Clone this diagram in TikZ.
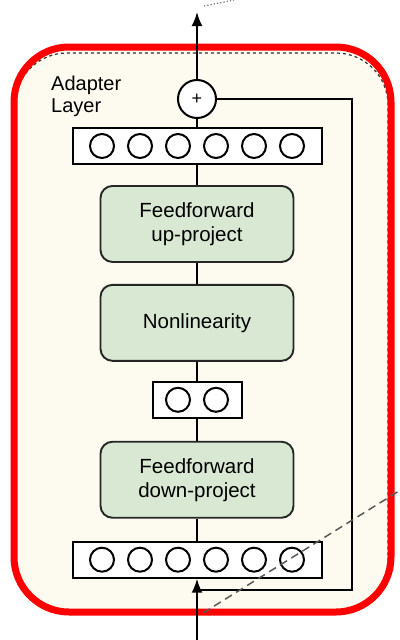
\documentclass[tikz,border=0pt]{standalone}
\usepackage{fontspec}
\setmainfont{Liberation Sans}
\usetikzlibrary{positioning, arrows.meta, calc, backgrounds}
\definecolor{crema}{RGB}{253,251,239}
\definecolor{verde}{RGB}{217,232,211}

\begin{document}
\begin{tikzpicture}[
		x=1pt, y=-1pt,
		% Estilos de bloques
		bloque/.style={draw=black!85, fill=verde, line width=1.9pt, rounded corners=12pt, minimum width=193pt, minimum height=76pt, inner sep=0pt, align=center, font=\fontsize{20.5}{24}\selectfont},
		vector/.style={draw=black, fill=white, line width=2pt, minimum height=36pt, inner sep=0pt},
		neurona/.style={circle, draw=black, line width=2pt, minimum size=24pt, inner sep=0pt},
		suma/.style={circle, draw=black, fill=white, line width=2pt, minimum size=38pt, inner sep=0pt, font=\fontsize{18}{18}\selectfont},
		% Estilo de flechas y lineas
		flecha/.style={-{Latex[length=14pt,width=11pt]}, line width=2pt},
		linea/.style={line width=2pt},
		marco/.style={draw=red, line width=7pt, rounded corners=55pt},
		]
		\useasboundingbox (0,0) rectangle (399,640);
		
		% --- CAPA ADAPTADORA (DE ARRIBA A ABAJO) ---
		\node[suma] (suma) at (197,99) {+};
		\node[vector, minimum width=249pt, below=8pt of suma] (vsal) {};
		\node[bloque, below=20pt of vsal] (subida) {Feedforward\\up-project};
		\node[bloque, below=21pt of subida] (nolineal) {Nonlinearity};
		\node[vector, minimum width=89pt, below=19pt of nolineal] (vmed) {};
		\node[bloque, below=22pt of vmed] (bajada) {Feedforward\\down-project};
		\node[vector, minimum width=249pt, below=22pt of bajada] (vent) {};
		
		% Neuronas de cada vector
		\foreach \i in {1,...,6} {
			\node[neurona] (s\i) at ($(vsal)+({(\i-3.5)*38},0)$) {};
			\node[neurona] (e\i) at ($(vent)+({(\i-3.5)*38},0)$) {};
		}
		\foreach \i in {1,2}
			\node[neurona] (m\i) at ($(vmed)+({(\i-1.5)*38},0)$) {};
		
		\node[anchor=north west, align=left, inner sep=0pt, font=\fontsize{20}{22}\selectfont] (titulo) at (51,76) {Adapter\\Layer};
		
		% --- CONEXIONES ---
		\coordinate (salida) at (197,12);
		\coordinate (entrada) at (197,640);
		\coordinate (rama) at (197,590);
		\coordinate (esquina) at (352,590);
		
		\draw[flecha] (entrada) -- (vent);
		\draw[linea] (vent) -- (bajada);
		\draw[linea] (bajada) -- (vmed);
		\draw[linea] (vmed) -- (nolineal);
		\draw[linea] (nolineal) -- (subida);
		\draw[linea] (subida) -- (vsal);
		\draw[linea] (vsal) -- (suma);
		\draw[flecha] (suma) -- (salida);
		
		% Conexion residual
		\draw[linea] (rama) -- (esquina) |- (suma);
		
		% Lineas de contexto (cortadas)
		\coordinate (d1) at (203,613);
		\coordinate (d2) at (399,491);
		\coordinate (p1) at (204,6);
		\coordinate (p2) at (234,0);
		\draw[gray!70!black, line width=1.5pt, dash pattern=on 8pt off 5pt] (d1) -- (d2);
		\draw[gray, line width=1.3pt, dotted] (p1) -- (p2);
		
		% --- CAJA DE FONDO ---
		\begin{scope}[on background layer]
			\fill[crema, rounded corners=55pt] (14,47) rectangle (391,612);
			\draw[black!80, line width=1.2pt, dashed, rounded corners=52pt] (15,53) rectangle (388,610);
			\draw[marco] (14,47) rectangle (391,612);
		\end{scope}
		
	\end{tikzpicture}
\end{document}
